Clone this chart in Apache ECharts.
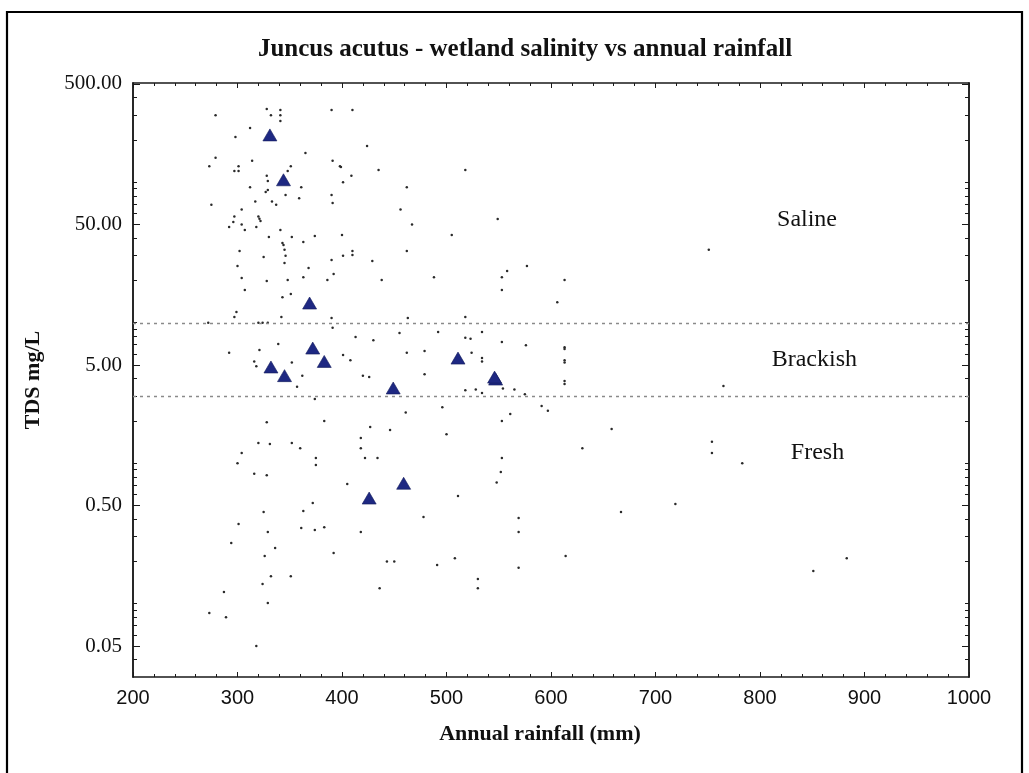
<!DOCTYPE html>
<html><head><meta charset="utf-8">
<script src="https://cdn.jsdelivr.net/npm/echarts@6/dist/echarts.min.js"></script>
<style>html,body{margin:0;padding:0;background:#fff}#c{width:1029px;height:773px}</style>
</head><body><div id="c"></div><script>
// ---- data ----
const dotRainfall = [279,328,332,341,341,341,390,410,312,298,424,279,273,314,297,301,301,365,351,348,391,398,399,435,409,328,329,312,327,329,346,361,401,462,317,333,337,359,390,391,275,304,456,467,297,296,292,304,307,320,321,322,318,330,341,343,344,345,352,363,374,400,346,345,325,302,300,390,401,410,410,429,462,368,304,328,348,363,386,392,438,518,549,505,488,553,558,613,577,751,307,343,351,299,297,342,390,391,463,272,320,324,329,455,413,430,339,321,292,462,401,408,316,318,352,362,420,426,357,374,461,328,383,427,446,320,331,352,360,418,418,304,422,434,375,375,300,316,328,405,553,606,518,492,534,518,523,553,576,479,524,534,534,613,613,613,613,479,613,613,518,528,534,554,565,575,496,591,597,561,553,500,658,630,553,552,548,765,754,754,783,511,478,569,569,719,667,491,508,530,530,569,614,883,851,294,301,325,329,336,326,332,351,324,287,329,273,289,318,361,363,372,374,383,392,418,443,450,436];
const dotTds = [300,332,300,327,300,273,327,327,243,210,181,149,130,142,120,120,130,161,130,120,142,130,128,122,111,111,102,92,85,88,81,92,100,92,73,73,69,77,81,71,69,64,64,50,57,52,48,50,45.7,57,55,53,48,40.7,45.7,36.9,35.7,33,40.7,37.5,41.4,42,29.9,26.6,29.4,32.4,25.3,27.9,29.9,32.4,30.3,27.5,32.4,24.5,20.8,19.8,20.1,21.1,20.1,22.2,20.1,122,54.7,42,21.1,21.1,23.3,20.1,25.3,33,17.1,15.2,16.0,11.9,11.0,11.0,10.8,9.2,10.8,10.0,10.0,10.0,10.0,8.45,7.9,7.5,7.05,6.4,6.1,6.1,5.9,5.4,5.3,4.9,5.2,4.2,4.2,4.1,3.5,2.86,2.3,1.96,2.0,1.81,1.72,1.39,1.37,1.39,1.28,1.51,1.28,1.18,1.09,1.09,1.09,0.97,1.0,0.84,0.82,0.71,17.1,14.0,11.0,8.6,8.6,7.8,7.7,7.3,6.9,6.3,6.1,5.6,5.3,6.7,6.5,5.4,5.2,4.3,3.85,3.66,3.3,3.35,3.16,3.4,3.35,3.1,2.5,2.55,2.36,2.24,2.0,1.61,1.75,1.28,1.09,0.865,0.73,3.55,1.42,1.18,1.0,0.585,0.414,0.407,0.324,0.513,0.45,0.189,0.211,0.15,0.129,0.18,0.219,0.211,0.171,0.27,0.369,0.45,0.324,0.249,0.219,0.157,0.157,0.138,0.121,0.101,0.086,0.080,0.05,0.346,0.457,0.52,0.335,0.35,0.23,0.324,0.20,0.20,0.129];
const siteRainfall = [331,344,369,372,383,332,345,449,511,547,546,459,426];
const siteTds = [217,104,13.8,6.6,5.3,4.84,4.2,3.43,5.6,3.97,4.1,0.72,0.565];
const yTickValues = [0.05,0.5,5,50,500];
const yTickLabels = ['0.05','0.50','5.00','50.00','500.00'];
const classBounds = [10,3];
const classNames = ['Saline','Brackish','Fresh'];
const classRainfall = [845,852,855];
const classTds = [53.8,5.43,1.18];
const titleText = 'Juncus acutus - wetland salinity vs annual rainfall';
const xName = 'Annual rainfall (mm)';
const yName = 'TDS mg/L';

// ---- helpers ----
const BASE = 0.05;
const toT = v => Math.log10(v / BASE);
const Y_MIN = toT(0.0301), Y_MAX = toT(508);
const majorT = yTickValues.map(toT);
const minorT = [];
for (let n = -2; n <= 2; n++) for (let m = 1; m <= 9; m++) {
  const v = m * Math.pow(10, n);
  const t = toT(v);
  if (m !== 5 && t >= Y_MIN && t <= Y_MAX) minorT.push(t);
}
const labelMap = {};
majorT.forEach((t, i) => { labelMap[t.toFixed(4)] = yTickLabels[i]; });

const SERIF = '"Liberation Serif", "Times New Roman", serif';
const SANS = '"Liberation Sans", Arial, sans-serif';
const AX = '#1a1a1a';

const chart = echarts.init(document.getElementById('c'), null, {renderer: 'canvas'});
const xBase = (pos, showLabel) => ({
  type: 'value', position: pos, min: 200, max: 1000, interval: 100,
  axisLine: {show: true, onZero: false, lineStyle: {color: AX, width: 1.5}},
  axisTick: {show: true, inside: true, length: 5, lineStyle: {color: AX, width: 1}},
  minorTick: {show: true, splitNumber: 5, length: 3, lineStyle: {color: AX, width: 1}},
  splitLine: {show: false}, minorSplitLine: {show: false},
  axisLabel: {show: showLabel, margin: 11, color: '#111', fontFamily: SANS, fontSize: 20,
    formatter: v => String(v)}
});
const yBase = (pos, ticks, len, showLabel) => ({
  type: 'value', position: pos, min: Y_MIN, max: Y_MAX,
  axisLine: {show: true, onZero: false, lineStyle: {color: AX, width: 1.5}},
  axisTick: {show: true, inside: true, length: len, customValues: ticks, lineStyle: {color: AX, width: 1}},
  splitLine: {show: false},
  axisLabel: {show: showLabel, customValues: majorT, margin: 11, color: '#111', fontFamily: SERIF, fontSize: 21,
    formatter: v => labelMap[Number(v).toFixed(4)] || ''}
});

chart.setOption({
  animation: false,
  backgroundColor: '#fff',
  grid: {left: 133, right: 60, top: 83, bottom: 96, show: false},
  xAxis: [xBase('bottom', true), xBase('top', false)],
  yAxis: [yBase('left', majorT, 7, true), yBase('left', minorT, 4, false),
          yBase('right', majorT, 7, false), yBase('right', minorT, 4, false)],
  series: [
    {
      type: 'scatter', xAxisIndex: 0, yAxisIndex: 0, silent: true,
      symbol: 'circle', symbolSize: 2.5,
      itemStyle: {color: '#2a2a2a', opacity: 1},
      data: dotRainfall.map((x, i) => [x, toT(dotTds[i])]),
      markLine: {
        silent: true, symbol: 'none', label: {show: false},
        lineStyle: {type: [3, 4], color: '#8a8a8a', width: 1.3},
        data: classBounds.map(b => ({yAxis: toT(b)}))
      }
    },
    {
      type: 'scatter', xAxisIndex: 0, yAxisIndex: 0, silent: true,
      symbol: 'triangle', symbolSize: [14, 12],
      itemStyle: {color: '#1e2882', borderColor: '#131a5a', borderWidth: 0.6, opacity: 1},
      data: siteRainfall.map((x, i) => [x, toT(siteTds[i])])
    },
    {
      type: 'scatter', xAxisIndex: 0, yAxisIndex: 0, silent: true,
      symbolSize: 0, itemStyle: {opacity: 1},
      data: classNames.map((n, i) => ({value: [classRainfall[i], toT(classTds[i])], name: n})),
      label: {show: true, position: 'inside', formatter: p => p.name, opacity: 1,
        color: '#111', fontFamily: SERIF, fontSize: 24}
    }
  ],
  graphic: [
    {type: 'rect', z: 100, silent: true, shape: {x: 7, y: 12, width: 1015, height: 800},
     style: {fill: 'none', stroke: '#000', lineWidth: 2.2}},
    {type: 'text', z: 100, silent: true, x: 525, y: 50,
     style: {text: titleText, textAlign: 'center', textVerticalAlign: 'middle',
       font: 'bold 25px ' + SERIF, fill: '#111'}},
    {type: 'text', z: 100, silent: true, x: 540, y: 734,
     style: {text: xName, textAlign: 'center', textVerticalAlign: 'middle',
       font: 'bold 22px ' + SERIF, fill: '#111'}},
    {type: 'text', z: 100, silent: true, x: 33, y: 380, rotation: Math.PI / 2,
     style: {text: yName, textAlign: 'center', textVerticalAlign: 'middle',
       font: 'bold 22px ' + SERIF, fill: '#111'}}
  ]
});
</script></body></html>
